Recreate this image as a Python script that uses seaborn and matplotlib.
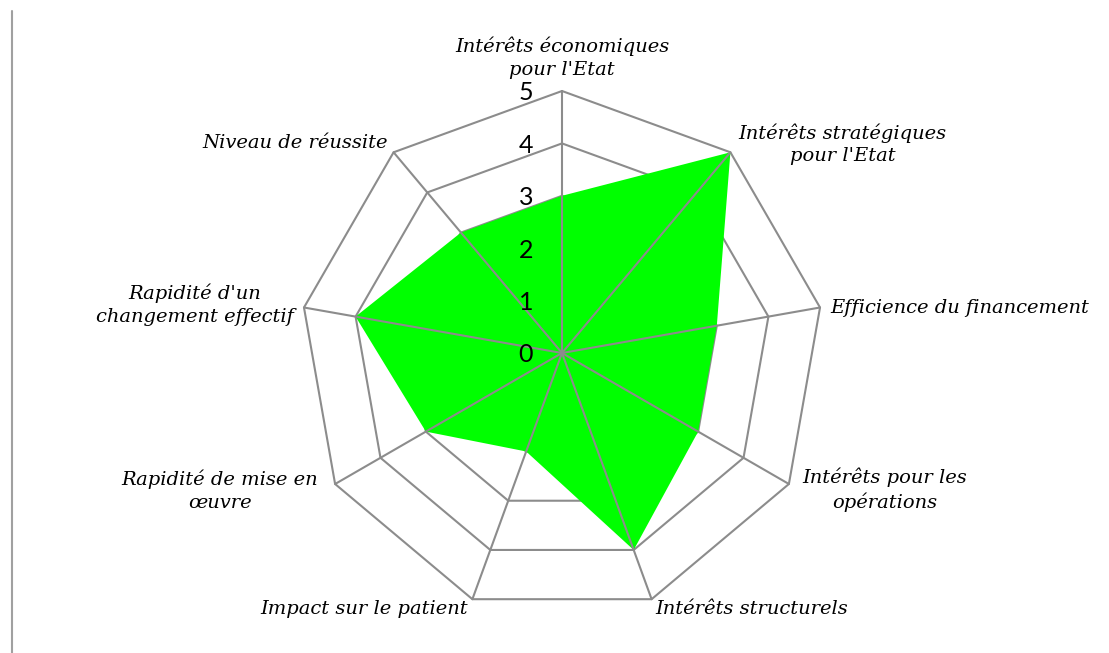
import numpy as np
import matplotlib
matplotlib.use("Agg")
import matplotlib.pyplot as plt
import seaborn as sns
import pandas as pd

# ---- data ----
categories = [
    "Intérêts économiques\npour l'Etat",
    "Intérêts stratégiques\npour l'Etat",
    "Efficience du financement",
    "Intérêts pour les\nopérations",
    "Intérêts structurels",
    "Impact sur le patient",
    "Rapidité de mise en\nœuvre",
    "Rapidité d'un\nchangement effectif",
    "Niveau de réussite",
]
scores = [3, 5, 3, 3, 4, 2, 3, 4, 3]
levels = [0, 1, 2, 3, 4, 5]
level_labels = ["0", "1", "2", "3", "4", "5"]

# ---- style ----
sns.set_theme(style="white")
plt.rcParams["font.family"] = ["DejaVu Serif"]

W, H = 1109, 653
fig = plt.figure(figsize=(W / 100, H / 100), dpi=100)
ax = fig.add_axes([0, 0, 1, 1])
cx, cy, R = 562, 353, 262          # pixel centre / radius of the outer ring
rmax = max(levels)
s = rmax / R
ax.set_xlim(-cx * s, (W - cx) * s)
ax.set_ylim(-(H - cy) * s, cy * s)
ax.axis("off")

n = len(categories)
theta = np.pi / 2 - 2 * np.pi * np.arange(n) / n
grid_col = "#8c8c8c"
px = 0.72  # points per pixel

# rings (behind the fill)
rings = []
for lv in levels[1:]:
    for k in list(range(n)) + [0]:
        rings.append({"lvl": lv, "x": lv * np.cos(theta[k]), "y": lv * np.sin(theta[k])})
rings = pd.DataFrame(rings)
sns.lineplot(data=rings, x="x", y="y", units="lvl", estimator=None, sort=False,
             color=grid_col, lw=1.5, ax=ax, zorder=1, legend=False)

# data polygon
sx = np.array(scores) * np.cos(theta)
sy = np.array(scores) * np.sin(theta)
ax.fill(sx, sy, color="#00ff00", lw=0, zorder=2)

# spokes (over the fill)
spokes = []
for k in range(n):
    for r in (0, rmax):
        spokes.append({"k": k, "x": r * np.cos(theta[k]), "y": r * np.sin(theta[k])})
spokes = pd.DataFrame(spokes)
sns.lineplot(data=spokes, x="x", y="y", units="k", estimator=None, sort=False,
             color=grid_col, lw=1.5, ax=ax, zorder=3, legend=False)

# level labels
for lv, lab in zip(levels, level_labels):
    ax.annotate(lab, xy=(0, lv), xytext=(-29 * px, 0), textcoords="offset points",
                ha="right", va="center_baseline", fontsize=18,
                family=["Lato", "DejaVu Sans"], color="black", zorder=4)

# category labels
placement = [
    ("center", "bottom", 0, 12),
    ("left", "center", 8, 8),
    ("left", "center", 10, 0),
    ("left", "center", 13, -6),
    ("left", "center", 4, -10),
    ("right", "center", -4, -10),
    ("right", "center", -17, -7),
    ("right", "center", -10, 3),
    ("right", "center", -6, 9),
]
for k, (lab, (ha, va, dx, dy)) in enumerate(zip(categories, placement)):
    ax.annotate(lab, xy=(rmax * np.cos(theta[k]), rmax * np.sin(theta[k])),
                xytext=(dx * px, dy * px), textcoords="offset points",
                ha=ha, va=va, multialignment="center", fontsize=14,
                style="italic", family="DejaVu Serif", color="black",
                linespacing=1.35, zorder=4)

# left border line
fig.add_artist(plt.Line2D([12 / W, 12 / W], [0, 1 - 11 / H],
                          transform=fig.transFigure, color="#a0a0a0", lw=1.5))

fig.savefig("out.png", dpi=100)
